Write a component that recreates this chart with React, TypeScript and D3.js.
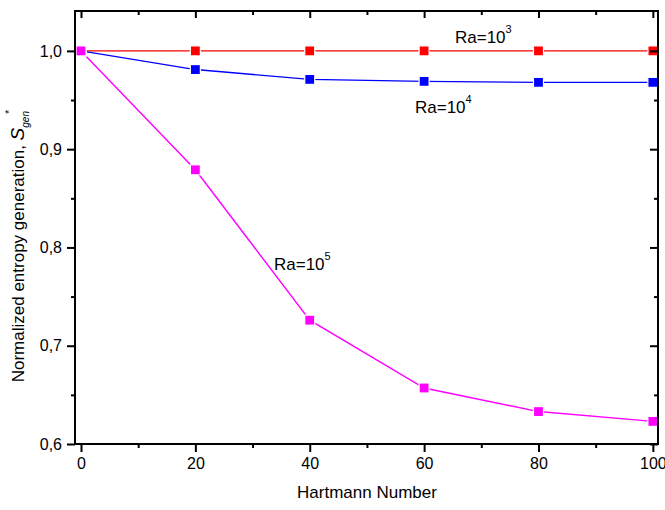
import * as d3 from "d3";
import * as React from "react";

const hartmann = [0, 20, 40, 60, 80, 100];
const ra3 = [1.0, 1.0, 1.0, 1.0, 1.0, 1.0];
const ra4 = [1.0, 0.981, 0.971, 0.969, 0.968, 0.968];
const ra5 = [1.0, 0.879, 0.726, 0.657, 0.633, 0.623];
const xTicks = [0, 20, 40, 60, 80, 100];
const yTicks = [0.6, 0.7, 0.8, 0.9, 1.0];

const width = 665;
const height = 510;
const margin = { top: 11, right: 7, bottom: 66, left: 75 };

export default function App() {
  const ref = React.useRef<SVGSVGElement>(null);

  React.useEffect(() => {
    const svg = d3.select(ref.current);
    svg.selectAll("*").remove();

    const x = d3
      .scaleLinear()
      .domain([-1.05, 100.9])
      .range([margin.left, width - margin.right]);
    const y = d3
      .scaleLinear()
      .domain([0.6, 1.0406])
      .range([height - margin.bottom, margin.top]);

    const font = "Arial, 'Liberation Sans', sans-serif";
    const fmt = (d: number) => d.toFixed(1).replace(".", ",");
    const x0 = margin.left;
    const x1 = width - margin.right;
    const y0 = height - margin.bottom;
    const y1 = margin.top;

    const series = [
      { values: ra3, color: "#ff0000" },
      { values: ra4, color: "#0000ff" },
      { values: ra5, color: "#ff00ff" },
    ];

    const line = d3
      .line<number>()
      .x((d, i) => x(hartmann[i]))
      .y((d) => y(d));

    series.forEach((s) => {
      svg
        .append("path")
        .datum(s.values)
        .attr("fill", "none")
        .attr("stroke", s.color)
        .attr("stroke-width", 1.4)
        .attr("d", line);
    });
    series.forEach((s) => {
      svg
        .append("g")
        .selectAll("rect")
        .data(s.values)
        .join("rect")
        .attr("x", (d, i) => x(hartmann[i]) - 5)
        .attr("y", (d) => y(d) - 5)
        .attr("width", 10)
        .attr("height", 10)
        .attr("fill", s.color)
        .attr("stroke", "white")
        .attr("stroke-width", 1.2);
    });

    const minorX = d3.range(10, 100, 20);
    const minorY = [0.65, 0.75, 0.85, 0.95];

    // bottom axis (outward)
    const bottom = svg.append("g").attr("transform", `translate(0,${y0})`);
    bottom
      .call(d3.axisBottom(x).tickValues(xTicks).tickSize(8).tickFormat(d3.format("d")))
      .call((g) => g.select(".domain").remove());
    bottom.selectAll(".tick line").attr("stroke-width", 2);
    bottom
      .selectAll(".tick text")
      .attr("font-size", 16)
      .attr("font-family", font)
      .attr("dy", "0.9em")
      .attr("fill", "#000");
    bottom
      .append("g")
      .call(d3.axisBottom(x).tickValues(minorX).tickSize(4).tickFormat(() => ""))
      .call((g) => g.select(".domain").remove())
      .selectAll("line")
      .attr("stroke-width", 2);

    // top axis (inward)
    const top = svg.append("g").attr("transform", `translate(0,${y1})`);
    top
      .call(d3.axisBottom(x).tickValues(xTicks).tickSize(7).tickFormat(() => ""))
      .call((g) => g.select(".domain").remove());
    top
      .append("g")
      .call(d3.axisBottom(x).tickValues(minorX).tickSize(4).tickFormat(() => ""))
      .call((g) => g.select(".domain").remove());
    top.selectAll("line").attr("stroke-width", 2);

    // left axis (outward)
    const left = svg.append("g").attr("transform", `translate(${x0},0)`);
    left
      .call(d3.axisLeft(y).tickValues(yTicks).tickSize(8).tickFormat((d) => fmt(d as number)))
      .call((g) => g.select(".domain").remove());
    left
      .selectAll(".tick text")
      .attr("font-size", 16)
      .attr("font-family", font)
      .attr("x", -13)
      .attr("fill", "#000");
    left
      .append("g")
      .call(d3.axisLeft(y).tickValues(minorY).tickSize(4).tickFormat(() => ""))
      .call((g) => g.select(".domain").remove());
    left.selectAll("line").attr("stroke-width", 2);

    // right axis (inward)
    const right = svg.append("g").attr("transform", `translate(${x1},0)`);
    right
      .call(d3.axisLeft(y).tickValues(yTicks).tickSize(8).tickFormat(() => ""))
      .call((g) => g.select(".domain").remove());
    right
      .append("g")
      .call(d3.axisLeft(y).tickValues(minorY).tickSize(4).tickFormat(() => ""))
      .call((g) => g.select(".domain").remove());
    right.selectAll("line").attr("stroke-width", 2);

    // frame
    svg
      .append("rect")
      .attr("x", x0)
      .attr("y", y1)
      .attr("width", x1 - x0)
      .attr("height", y0 - y1)
      .attr("fill", "none")
      .attr("stroke", "#000")
      .attr("stroke-width", 2);

    // series labels
    const labels = [
      { text: "Ra=10", exp: "3", px: 455, py: 43 },
      { text: "Ra=10", exp: "4", px: 415, py: 113 },
      { text: "Ra=10", exp: "5", px: 274, py: 270 },
    ];
    labels.forEach((l) => {
      const t = svg
        .append("text")
        .attr("x", l.px)
        .attr("y", l.py)
        .attr("font-family", font)
        .attr("font-size", 17)
        .attr("fill", "#000");
      t.append("tspan").text(l.text);
      t.append("tspan").attr("font-size", 11).attr("dy", -10).text(l.exp);
    });

    // x label
    svg
      .append("text")
      .attr("x", 367)
      .attr("y", 498)
      .attr("text-anchor", "middle")
      .attr("font-family", font)
      .attr("font-size", 17)
      .attr("fill", "#000")
      .text("Hartmann Number");

    // y label
    const yl = svg
      .append("text")
      .attr("transform", `translate(24,${246}) rotate(-90)`)
      .attr("text-anchor", "middle")
      .attr("font-family", font)
      .attr("font-size", 17)
      .attr("fill", "#000");
    yl.append("tspan").text("Normalized entropy generation, ");
    yl.append("tspan").attr("font-style", "italic").attr("font-size", 19).text("S");
    yl.append("tspan").attr("font-style", "italic").attr("font-size", 10).attr("dy", 5).text("gen");
    yl.append("tspan").attr("font-size", 11).attr("dy", -16).attr("dx", -3).text("*");
  }, []);

  return (
    <svg
      ref={ref}
      width={width}
      height={height}
      style={{ position: "absolute", left: 0, top: 0, background: "#fff" }}
    ></svg>
  );
}
